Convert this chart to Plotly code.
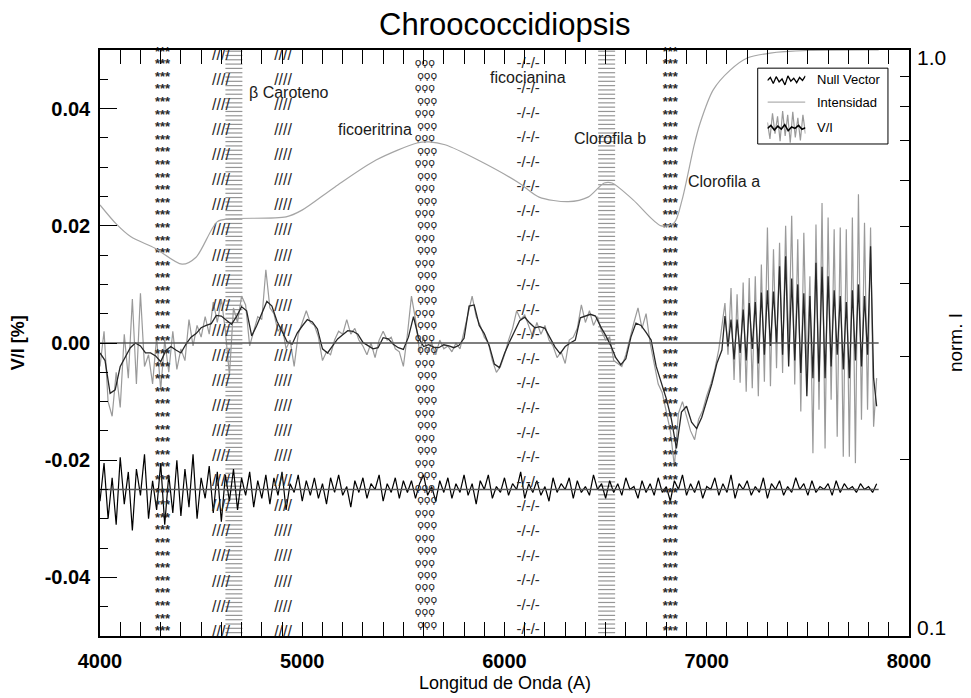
import numpy as np
import plotly.graph_objects as go

# ---------------------------------------------------------------- data
# Circular polarisation V/I (%) of the raw spectrum, 4000-7060 A every 20 A
VI_RAW_START, VI_RAW_STEP = 4000, 20
VI_RAW = [
    -0.0040, 0.0020, -0.0100, -0.0125, -0.0050, -0.0110, 0.0015, -0.0060, 0.0075, -0.0070,
    0.0085, -0.0040, -0.0020, -0.0070, 0.0010, -0.0080, 0.0005, -0.0050, 0.0020, -0.0045,
    -0.0010, -0.0030, 0.0040, -0.0005, 0.0030, 0.0010, 0.0045, 0.0015, 0.0070, 0.0035,
    0.0075, 0.0020, -0.0055, 0.0060, 0.0035, 0.0080, 0.0065, -0.0005, 0.0020, 0.0045,
    0.0040, 0.0125, 0.0060, 0.0050, 0.0020, 0.0030, -0.0010, 0.0005, -0.0040, 0.0015,
    0.0035, 0.0055, 0.0035, 0.0030, 0.0010, -0.0030, -0.0015, -0.0020, 0.0005, 0.0020,
    0.0015, 0.0040, 0.0015, 0.0025, 0.0005, -0.0005, -0.0020, 0.0000, -0.0025, 0.0005,
    0.0020, 0.0005, 0.0010, -0.0010, -0.0015, -0.0040, 0.0015, 0.0080, 0.0040, -0.0015,
    0.0010, -0.0015, 0.0000, -0.0020, 0.0005, -0.0010, -0.0005, -0.0015, 0.0000, -0.0010,
    0.0020, 0.0050, 0.0080, 0.0045, 0.0030, 0.0010, 0.0000, -0.0030, -0.0050, -0.0040,
    -0.0020, 0.0005, 0.0025, 0.0055, 0.0040, 0.0048, 0.0030, 0.0010, 0.0035, 0.0015,
    0.0030, 0.0005, -0.0005, -0.0025, -0.0015, -0.0035, 0.0005, 0.0010, 0.0025, 0.0065,
    0.0035, 0.0055, 0.0030, 0.0045, 0.0020, 0.0005, 0.0010, -0.0030, -0.0035, -0.0040,
    -0.0020, 0.0010, 0.0035, 0.0060, 0.0025, 0.0050, 0.0000, -0.0035, -0.0070, -0.0085,
    -0.0115, -0.0150, -0.0210, -0.0120, -0.0100, -0.0125, -0.0150, -0.0165, -0.0130, -0.0115,
    -0.0090, -0.0070, -0.0045, -0.0010,
]

# Smoothed V/I, 4000-7075 A every 25 A
VI_SMOOTH_START, VI_SMOOTH_STEP = 4000, 25
VI_SMOOTH = [
    -0.0017, -0.0030, -0.0086, -0.0080, -0.0040, -0.0025, -0.0008, 0.0000, -0.0005, -0.0017,
    -0.0017, -0.0022, -0.0032, -0.0013, -0.0006, -0.0012, -0.0017, -0.0002, 0.0010, 0.0016,
    0.0026, 0.0030, 0.0033, 0.0047, 0.0046, 0.0039, 0.0032, 0.0045, 0.0062, 0.0055,
    0.0012, 0.0030, 0.0050, 0.0071, 0.0063, 0.0037, 0.0020, 0.0002, -0.0002, 0.0017,
    0.0029, 0.0040, 0.0036, 0.0024, -0.0010, -0.0017, -0.0005, 0.0007, 0.0014, 0.0021,
    0.0020, 0.0015, 0.0001, -0.0004, -0.0010, -0.0008, 0.0009, 0.0007, -0.0002, -0.0008,
    -0.0011, 0.0010, 0.0045, 0.0009, -0.0006, -0.0003, -0.0007, -0.0008, -0.0003, -0.0005,
    -0.0008, -0.0004, 0.0008, 0.0063, 0.0065, 0.0030, 0.0016, -0.0005, -0.0036, -0.0042,
    -0.0018, 0.0002, 0.0020, 0.0038, 0.0044, 0.0034, 0.0026, 0.0028, 0.0025, 0.0008,
    -0.0007, -0.0018, -0.0006, 0.0000, 0.0005, 0.0043, 0.0046, 0.0049, 0.0046, 0.0028,
    0.0013, -0.0004, -0.0025, -0.0037, -0.0027, 0.0010, 0.0034, 0.0030, 0.0018, 0.0005,
    -0.0040, -0.0066, -0.0095, -0.0130, -0.0180, -0.0118, -0.0108, -0.0135, -0.0146, -0.0127,
    -0.0100, -0.0070, -0.0035, -0.0012,
]

# Red end (7090-7840 A every 15 A): strongly oscillating V/I
OSC_START, OSC_STEP = 7090, 15
VI_RAW_RED = [
    0.0068, -0.0020, 0.0094, -0.0063, 0.0083, -0.0068, 0.0103, -0.0083, 0.0111, -0.0077,
    0.0114, -0.0091, 0.0134, -0.0066, 0.0197, -0.0074, 0.0160, -0.0043, 0.0171, -0.0051,
    0.0200, -0.0014, 0.0217, -0.0071, 0.0177, -0.0117, 0.0188, -0.0051, 0.0114, -0.0188,
    0.0202, -0.0114, 0.0239, -0.0180, 0.0214, -0.0097, 0.0194, -0.0160, 0.0197, -0.0194,
    0.0194, -0.0194, 0.0214, -0.0205, 0.0254, -0.0131, 0.0205, -0.0114, 0.0197, -0.0143,
    -0.0060,
]
VI_SMOOTH_RED = [
    0.0046, -0.0006, 0.0040, -0.0028, 0.0040, -0.0017, 0.0057, -0.0030, 0.0068, -0.0010,
    0.0070, -0.0035, 0.0086, -0.0020, 0.0090, -0.0005, 0.0088, 0.0000, 0.0131, -0.0020,
    0.0148, -0.0040, 0.0110, -0.0030, 0.0100, -0.0051, 0.0085, -0.0091, 0.0080, -0.0060,
    0.0137, -0.0066, 0.0130, -0.0060, 0.0114, -0.0040, 0.0090, -0.0020, 0.0080, -0.0045,
    0.0070, -0.0060, 0.0090, -0.0030, 0.0100, -0.0040, 0.0080, -0.0020, 0.0165, -0.0060,
    -0.0108,
]

# Null vector (offset level -0.025), 4000-7840 A every 20 A
NULL_START, NULL_STEP = 4000, 20
NULL_VECTOR = [
    -0.0270, -0.0205, -0.0300, -0.0230, -0.0310, -0.0195, -0.0275, -0.0220, -0.0320, -0.0215,
    -0.0260, -0.0190, -0.0300, -0.0235, -0.0285, -0.0205, -0.0310, -0.0225, -0.0290, -0.0200,
    -0.0295,
    -0.0215, -0.0280, -0.0190, -0.0300, -0.0230, -0.0265, -0.0210, -0.0290, -0.0220, -0.0305,
    -0.0225, -0.0270, -0.0215, -0.0285, -0.0230, -0.0260, -0.0220, -0.0280, -0.0235, -0.0265,
    -0.0225, -0.0275, -0.0230, -0.0260, -0.0220, -0.0285, -0.0240, -0.0255, -0.0225, -0.0270,
    -0.0235, -0.0260, -0.0230, -0.0265, -0.0240, -0.0275, -0.0230, -0.0255, -0.0225, -0.0260,
    -0.0245, -0.0280, -0.0235, -0.0255, -0.0230, -0.0265, -0.0240, -0.0250, -0.0225, -0.0270,
    -0.0240, -0.0255, -0.0230, -0.0265, -0.0235,
    -0.0255, -0.0235, -0.0265, -0.0240, -0.0225, -0.0260, -0.0245, -0.0270, -0.0235, -0.0255,
    -0.0230, -0.0265, -0.0240, -0.0255, -0.0225, -0.0260, -0.0240, -0.0275, -0.0235, -0.0250,
    -0.0225, -0.0265, -0.0245, -0.0255, -0.0230, -0.0260, -0.0240, -0.0250, -0.0220, -0.0265,
    -0.0240, -0.0255, -0.0235, -0.0260, -0.0245, -0.0270, -0.0230, -0.0255, -0.0240, -0.0250,
    -0.0230, -0.0265, -0.0235, -0.0255, -0.0245, -0.0260, -0.0225, -0.0250, -0.0240, -0.0265,
    -0.0235, -0.0255, -0.0240, -0.0260, -0.0230, -0.0250, -0.0245, -0.0265, -0.0235, -0.0255,
    -0.0240, -0.0260, -0.0230, -0.0255, -0.0245, -0.0270, -0.0235, -0.0250, -0.0225, -0.0260,
    -0.0240, -0.0255, -0.0235, -0.0265, -0.0245, -0.0250, -0.0230, -0.0260, -0.0240, -0.0255,
    -0.0225, -0.0265, -0.0240, -0.0250, -0.0235, -0.0260, -0.0245, -0.0255, -0.0230, -0.0265,
    -0.0240, -0.0250, -0.0235, -0.0260, -0.0245, -0.0255, -0.0230, -0.0250, -0.0240, -0.0260,
    -0.0235, -0.0255, -0.0245, -0.0250, -0.0240, -0.0260, -0.0235, -0.0255, -0.0240, -0.0250,
    -0.0245, -0.0255, -0.0240, -0.0250, -0.0245, -0.0255, -0.0240,
]

# Normalised intensity (right, logarithmic axis)
INT_WAVE = [4000, 4080, 4153, 4272, 4406, 4475, 4579, 4638, 4920, 4999, 5162, 5365, 5568,
            5627, 5706, 5869, 6072, 6171, 6315, 6413, 6493, 6532, 6636, 6775, 6839, 6878,
            6938, 6967, 7032, 7116, 7200, 7314, 7500, 7850]
INT_NORM = [0.544, 0.505, 0.480, 0.459, 0.431, 0.443, 0.509, 0.515, 0.519, 0.533, 0.584,
            0.649, 0.694, 0.697, 0.689, 0.649, 0.593, 0.561, 0.551, 0.561, 0.593, 0.593,
            0.555, 0.501, 0.507, 0.555, 0.689, 0.750, 0.855, 0.924, 0.969, 0.988, 0.998, 1.0]

# Reference levels: zero polarisation and null-vector offset
REF_WAVE = [4000, 7850]
REF_LEVELS = [0.0, -0.025]

# Pigment absorption bands: centre wavelength (A) and hatch glyph
PIGMENT_WAVE = [4309, 4598, 4905, 5612, 6117, 6820]
PIGMENT_GLYPH = ["***", "////", "////", "ϙϙϙ", "-/-/-", "***"]
RULED_WAVE = [4662, 6505]

PIGMENT_LABELS = ["β Caroteno", "ficoeritrina", "ficocianina", "Clorofila b", "Clorofila a"]
LABEL_WAVE = [4935, 5360, 6117, 6522, 7086]
LABEL_VI = [0.0428, 0.0364, 0.0453, 0.0349, 0.0275]

# Legend icon samples
ICON_NULL = [0.86, 0.90, 0.82, 0.91, 0.84, 0.88, 0.80, 0.92, 0.85, 0.89, 0.83, 0.90, 0.86, 0.92]
ICON_VI_RAW = [0.30, 0.08, 0.42, 0.15, 0.38, 0.05, 0.45, 0.12, 0.40, 0.03, 0.44, 0.10,
               0.36, 0.06, 0.40, 0.15]
ICON_VI_SMOOTH = [0.22, 0.26, 0.20, 0.25, 0.21, 0.27, 0.19, 0.24, 0.22, 0.26, 0.21, 0.23]
ICON_INT = [0.57, 0.57]

# ---------------------------------------------------------------- grids
wave_raw = np.concatenate([VI_RAW_START + VI_RAW_STEP * np.arange(len(VI_RAW)),
                           OSC_START + OSC_STEP * np.arange(len(VI_RAW_RED))])
vi_raw = np.concatenate([VI_RAW, VI_RAW_RED])
wave_smooth = np.concatenate([VI_SMOOTH_START + VI_SMOOTH_STEP * np.arange(len(VI_SMOOTH)),
                              OSC_START + OSC_STEP * np.arange(len(VI_SMOOTH_RED))])
vi_smooth = np.concatenate([VI_SMOOTH, VI_SMOOTH_RED])
wave_null = NULL_START + NULL_STEP * np.arange(len(NULL_VECTOR))

FONT = "Liberation Sans, Arial, sans-serif"
GRAY = "#9a9a9a"
INK = "#1a1a1a"

fig = go.Figure()

# intensity on the log axis
fig.add_trace(go.Scatter(x=INT_WAVE, y=INT_NORM, yaxis="y2", mode="lines",
                         line=dict(color="#a5a5a5", width=1.2, shape="spline", smoothing=0.8),
                         hoverinfo="skip"))

# ruled (horizontal-line) hatching bands
rule_levels = np.arange(0.0498, -0.0500, -0.000735)
for w in RULED_WAVE:
    xs, ys = [], []
    for lv in rule_levels:
        xs += [w - 42, w + 42, None]
        ys += [lv, lv, None]
    fig.add_trace(go.Scatter(x=xs, y=ys, mode="lines",
                             line=dict(color="#959595", width=1.2), hoverinfo="skip"))

# V/I raw, smoothed and null vector
fig.add_trace(go.Scatter(x=wave_raw, y=vi_raw, mode="lines",
                         line=dict(color=GRAY, width=1.2), hoverinfo="skip"))
fig.add_trace(go.Scatter(x=wave_smooth, y=vi_smooth, mode="lines",
                         line=dict(color="#262626", width=1.3), hoverinfo="skip"))
fig.add_trace(go.Scatter(x=wave_null, y=NULL_VECTOR, mode="lines",
                         line=dict(color="#000000", width=1.2), hoverinfo="skip"))
for lv in REF_LEVELS:
    fig.add_trace(go.Scatter(x=REF_WAVE, y=[lv, lv], mode="lines",
                             line=dict(color="#555555", width=1.3), hoverinfo="skip"))

# glyph hatching of the pigment bands
band_style = {
    "***": dict(top=0.0496, step=0.00215, size=13, jitter=0, font=FONT, weight="bold"),
    "////": dict(top=0.0490, step=0.00428, size=16, jitter=0, font=FONT, weight="normal"),
    "ϙϙϙ": dict(top=0.0477, step=0.00213, size=11, jitter=6, font="DejaVu Sans", weight="normal"),
    "-/-/-": dict(top=0.0475, step=0.00420, size=15, jitter=0, font=FONT, weight="normal"),
}
for w, glyph in zip(PIGMENT_WAVE, PIGMENT_GLYPH):
    st = band_style[glyph]
    rows = np.arange(st["top"], -0.0500, -st["step"])
    xs = [w + (st["jitter"] if i % 2 else -st["jitter"]) for i in range(len(rows))]
    fig.add_trace(go.Scatter(x=xs, y=rows, mode="text", text=[glyph] * len(rows),
                             textposition="middle center",
                             textfont=dict(family=st["font"], size=st["size"], color="#2a2a2a",
                                           weight=st["weight"]),
                             hoverinfo="skip", cliponaxis=False))

# legend icons on a small inset axis
icon_x = lambda n: np.linspace(0, 1, n)
fig.add_trace(go.Scatter(x=icon_x(len(ICON_NULL)), y=ICON_NULL, xaxis="x3", yaxis="y3",
                         mode="lines", line=dict(color="#000", width=1.3), hoverinfo="skip"))
fig.add_trace(go.Scatter(x=icon_x(len(ICON_INT)), y=ICON_INT, xaxis="x3", yaxis="y3",
                         mode="lines", line=dict(color="#b0b0b0", width=1.2), hoverinfo="skip"))
fig.add_trace(go.Scatter(x=icon_x(len(ICON_VI_RAW)), y=ICON_VI_RAW, xaxis="x3", yaxis="y3",
                         mode="lines", line=dict(color=GRAY, width=1.2), hoverinfo="skip"))
fig.add_trace(go.Scatter(x=icon_x(len(ICON_VI_SMOOTH)), y=ICON_VI_SMOOTH, xaxis="x3", yaxis="y3",
                         mode="lines", line=dict(color="#000", width=1.6), hoverinfo="skip"))

annotations = []
for lab, w, v in zip(PIGMENT_LABELS, LABEL_WAVE, LABEL_VI):
    annotations.append(dict(x=w, y=v, xref="x", yref="y", text=lab, showarrow=False,
                            font=dict(family=FONT, size=16, color=INK)))

# title, axis titles and the right-axis end labels
annotations += [
    dict(x=0.5, y=1.0427, xref="paper", yref="paper", text="Chroococcidiopsis",
         xanchor="center", yanchor="middle", showarrow=False,
         font=dict(family=FONT, size=31, color="#000")),
    dict(x=0.5, y=-0.080, xref="paper", yref="paper", text="Longitud de Onda (A)",
         xanchor="center", yanchor="middle", showarrow=False,
         font=dict(family=FONT, size=18, color="#000")),
    dict(x=-0.101, y=0.5, xref="paper", yref="paper", text="<b>V/I [%]</b>", textangle=-90,
         xanchor="center", yanchor="middle", showarrow=False,
         font=dict(family=FONT, size=18, color="#000")),
    dict(x=1.057, y=0.5, xref="paper", yref="paper", text="norm. I", textangle=-90,
         xanchor="center", yanchor="middle", showarrow=False,
         font=dict(family=FONT, size=19, color="#000")),
    dict(x=1.0074, y=0.988, xref="paper", yref="paper", text="1.0",
         xanchor="left", yanchor="middle", showarrow=False,
         font=dict(family=FONT, size=21, color="#000")),
    dict(x=1.0074, y=0.0137, xref="paper", yref="paper", text="0.1",
         xanchor="left", yanchor="middle", showarrow=False,
         font=dict(family=FONT, size=21, color="#000")),
]
# legend texts
for txt, yy in [("Null Vector", 0.949), ("Intensidad", 0.911), ("V/I", 0.867)]:
    annotations.append(dict(x=0.884, y=yy, xref="paper", yref="paper", text=txt,
                            xanchor="left", yanchor="middle", showarrow=False,
                            font=dict(family=FONT, size=13, color="#000")))

shapes = [dict(type="rect", xref="paper", yref="paper", x0=0.813, x1=0.974, y0=0.8396, y1=0.969,
               line=dict(color="#000", width=1), fillcolor="rgba(0,0,0,0)")]

tick_vi = [-0.04, -0.02, 0.0, 0.02, 0.04]
fig.update_layout(
    width=971, height=698,
    margin=dict(l=100, r=62, t=50, b=62),
    paper_bgcolor="white", plot_bgcolor="white",
    showlegend=False,
    annotations=annotations, shapes=shapes,
    xaxis=dict(range=[4000, 8000], tickvals=[4000, 5000, 6000, 7000, 8000],
               ticks="inside", ticklen=14, tickwidth=1.3, tickcolor="#000",
               minor=dict(dtick=100, tick0=4000, ticks="inside", ticklen=7, tickcolor="#000"),
               showline=True, linecolor="#000", linewidth=1.5, mirror="allticks",
               showgrid=False, zeroline=False, ticklabelstandoff=6,
               tickfont=dict(family=FONT, size=20, color="#000", weight="bold")),
    yaxis=dict(range=[-0.05, 0.05], tickvals=tick_vi, ticktext=["-0.04", "-0.02", "0.00", "0.02", "0.04"],
               ticks="inside", ticklen=17, tickwidth=1.3, tickcolor="#000",
               minor=dict(dtick=0.005, tick0=0, ticks="inside", ticklen=8, tickcolor="#000"),
               showline=True, linecolor="#000", linewidth=1.5, mirror=False,
               showgrid=False, zeroline=False, ticklabelstandoff=4,
               tickfont=dict(family=FONT, size=20, color="#000", weight="bold")),
    yaxis2=dict(type="log", range=[-1, 0], overlaying="y", side="right",
                tickvals=[0.1, 1.0], showticklabels=False,
                ticks="inside", ticklen=16, tickwidth=1.3, tickcolor="#000",
                minor=dict(tickvals=[0.2, 0.3, 0.4, 0.5, 0.6, 0.7, 0.8, 0.9], ticks="inside",
                           ticklen=9, tickcolor="#000"),
                showline=True, linecolor="#000", linewidth=1.5,
                showgrid=False, zeroline=False),
    xaxis3=dict(domain=[0.825, 0.872], range=[0, 1], anchor="y3", visible=False),
    yaxis3=dict(domain=[0.838, 0.966], range=[0, 1], anchor="x3", visible=False),
)

fig.write_html("out.html")
